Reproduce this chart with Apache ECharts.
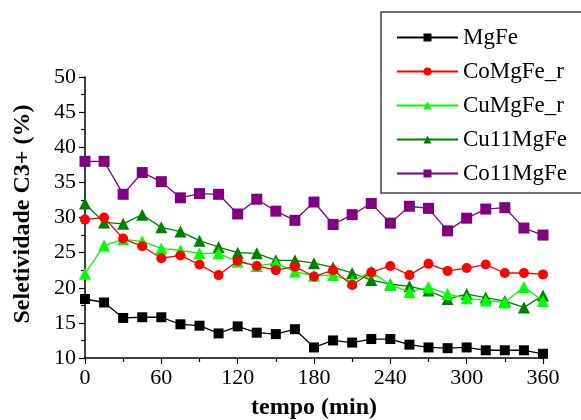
<!DOCTYPE html>
<html><head><meta charset="utf-8">
<script src="https://cdn.jsdelivr.net/npm/echarts@6/dist/echarts.min.js"></script>
<style>html,body{margin:0;padding:0;background:#fff}#c{width:581px;height:420px}</style>
</head><body><div id="c"></div>
<script>
const times = [0,15,30,45,60,75,90,105,120,135,150,165,180,195,210,225,240,255,270,285,300,315,330,345,360];
const seriesNames = ['MgFe','CoMgFe_r','CuMgFe_r','Cu11MgFe','Co11MgFe'];
const mgFe     = [18.4,17.9,15.7,15.8,15.8,14.8,14.6,13.5,14.5,13.6,13.4,14.1,11.5,12.5,12.2,12.7,12.7,11.9,11.5,11.4,11.5,11.1,11.1,11.1,10.6];
const coMgFe_r = [29.7,30.0,27.0,25.9,24.2,24.6,23.3,21.8,23.8,23.1,22.5,23.0,21.6,22.5,20.4,22.2,23.1,21.8,23.4,22.4,22.8,23.3,22.1,22.1,21.9];
const cuMgFe_r = [22.0,26.0,26.9,26.6,25.6,25.3,24.9,24.9,23.7,23.1,23.5,22.3,21.7,21.8,20.9,22.3,20.4,19.4,20.1,19.1,18.5,18.2,17.9,20.1,18.1];
const cu11MgFe = [32.0,29.3,29.1,30.4,28.6,28.0,26.7,25.8,25.0,24.9,23.9,23.9,23.5,22.9,22.1,21.1,20.5,20.2,19.6,18.4,19.1,18.6,18.1,17.2,18.9];
const co11MgFe = [38.0,38.0,33.3,36.4,35.1,32.8,33.4,33.3,30.5,32.6,30.9,29.6,32.2,29.0,30.4,32.0,29.2,31.6,31.3,28.1,29.9,31.2,31.4,28.5,27.5];
const xTicks = {min:0, max:360, interval:60};
const yTicks = {min:10, max:50, interval:5};

const values = [mgFe, coMgFe_r, cuMgFe_r, cu11MgFe, co11MgFe];
const colors = ['#000000','#ff0000','#00ff00','#008000','#800080'];
const symbols = ['rect','circle','triangle','triangle','rect'];
const sizes = [10,10,12,12,11];
const font = '"Liberation Serif","Times New Roman",serif';

const chart = echarts.init(document.getElementById('c'), null, {renderer:'canvas'});
chart.setOption({
  animation:false,
  backgroundColor:'#fff',
  grid:{left:85, right:38, top:77, bottom:62, containLabel:false, outerBoundsMode:'none'},
  legend:{
    left:381, top:12, orient:'vertical',
    padding:[14,40,8,15],
    itemGap:11, itemWidth:61, itemHeight:10,
    backgroundColor:'#fff', borderColor:'#444', borderWidth:1.5,
    selectedMode:false,
    textStyle:{fontFamily:font, fontSize:23, color:'#000'},
    data:seriesNames
  },
  xAxis:{
    type:'value', min:xTicks.min, max:xTicks.max, interval:xTicks.interval,
    name:'tempo (min)', nameLocation:'middle', nameGap:38,
    nameTextStyle:{fontFamily:font, fontSize:24, fontWeight:'bold', color:'#000'},
    axisLine:{show:true, onZero:false, lineStyle:{color:'#000', width:1.5}},
    axisTick:{show:true, inside:false, length:6, lineStyle:{color:'#000', width:1.2}},
    minorTick:{show:true, splitNumber:2, length:4, lineStyle:{color:'#000', width:1.2}},
    axisLabel:{fontFamily:font, fontSize:22, color:'#000', margin:9},
    splitLine:{show:false}
  },
  yAxis:{
    type:'value', min:yTicks.min, max:yTicks.max, interval:yTicks.interval,
    name:'Seletividade C3+ (%)', nameLocation:'middle', nameGap:50,
    nameTextStyle:{fontFamily:font, fontSize:24, fontWeight:'bold', color:'#000', padding:[0,0,0,7]},
    axisLine:{show:true, onZero:false, lineStyle:{color:'#000', width:1.5}},
    axisTick:{show:true, inside:false, length:6, lineStyle:{color:'#000', width:1.2}},
    minorTick:{show:true, splitNumber:2, length:4, lineStyle:{color:'#000', width:1.2}},
    axisLabel:{fontFamily:font, fontSize:22, color:'#000', margin:9},
    splitLine:{show:false}
  },
  series: seriesNames.map((n,i)=>({
    name:n, type:'line',
    data: times.map((t,j)=>[t, values[i][j]]),
    symbol:symbols[i], symbolSize:sizes[i], showSymbol:true,
    itemStyle:{color:colors[i]},
    lineStyle:{color:colors[i], width:1.3},
    z: 10 - i
  }))
});
</script></body></html>
